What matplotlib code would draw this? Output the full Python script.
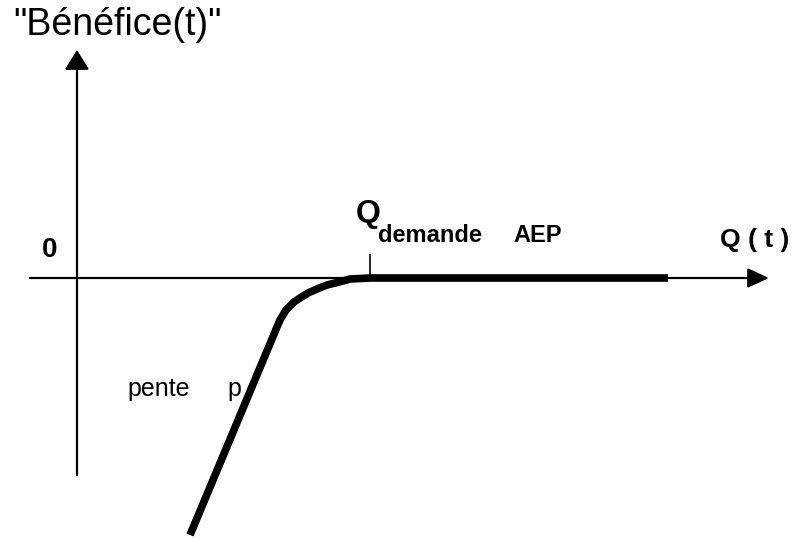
import matplotlib.pyplot as plt

plt.rcParams['font.family'] = ['Liberation Sans', 'DejaVu Sans']

# courbe du benefice en fonction du debit Q
# (unites du schema : origine au croisement des axes, 1 unite = 1 pixel)
q_curve = [113, 200, 203, 206, 209, 213, 217, 223, 231, 240, 250, 258, 266, 273, 293, 440, 591]
b_curve = [-257, -49, -42, -37, -32, -28, -24, -20, -15, -11, -7, -5, -3, -1, 0, 0, 0]

q_demande = 293
x_axis = (-47, 692)
y_axis = (-197, 228)

fig = plt.figure(figsize=(7.98, 5.39), dpi=100)
ax = fig.add_axes([0, 0, 1, 1])
ax.set_xlim(-77, 721)
ax.set_ylim(-261, 278)
ax.axis('off')

# axes avec fleches
ax.annotate('', xy=(x_axis[1], 0), xytext=(x_axis[0], 0),
            arrowprops=dict(arrowstyle='-|>,head_length=1.3,head_width=0.6',
                            color='black', lw=1.6, shrinkA=0, shrinkB=0))
ax.annotate('', xy=(0, y_axis[1]), xytext=(0, y_axis[0]),
            arrowprops=dict(arrowstyle='-|>,head_length=1.2,head_width=0.75',
                            color='black', lw=1.6, shrinkA=0, shrinkB=0))

# graduation Q demande
ax.plot([q_demande, q_demande], [0, 23], color='black', lw=1.2)

ax.plot(q_curve, b_curve, color='black', lw=5.5, solid_capstyle='butt',
        solid_joinstyle='round')

ax.text(-64, 243, '"Bénéfice(t)"', fontsize=27, va='baseline', ha='left')
ax.text(-27, 21, '0', fontsize=20, fontweight='bold', va='baseline', ha='center')
ax.text(291, 56, 'Q', fontsize=23, fontweight='bold', va='baseline', ha='center')
ax.text(301, 36, 'demande', fontsize=17, fontweight='bold', va='baseline', ha='left')
ax.text(436, 36, 'AEP', fontsize=17, fontweight='bold', va='baseline', ha='left')
ax.text(643, 31, 'Q ( t )', fontsize=19, fontweight='bold', va='baseline', ha='left')
ax.text(50, -118, 'pente', fontsize=18, va='baseline', ha='left')
ax.text(150, -118, 'p', fontsize=18, va='baseline', ha='left')

fig.savefig('out.png', dpi=100)
